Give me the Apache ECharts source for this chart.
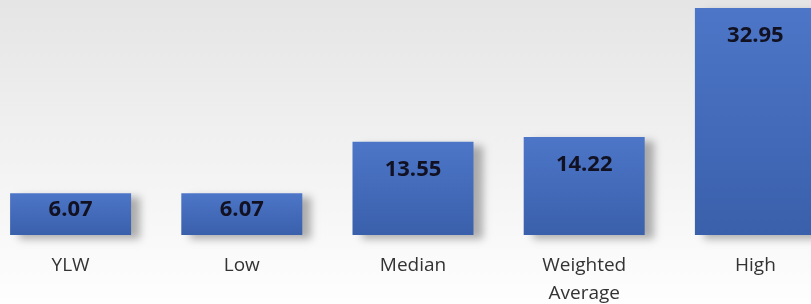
<!DOCTYPE html>
<html>
<head>
<meta charset="utf-8">
<script src="https://cdn.jsdelivr.net/npm/echarts@6/dist/echarts.min.js"></script>
<style>
html, body { margin: 0; padding: 0; }
#main { width: 811px; height: 304px; }
</style>
</head>
<body>
<div id="main"></div>
<script>
var categories = ['YLW', 'Low', 'Median', 'Weighted\nAverage', 'High'];
var values = [6.07, 6.07, 13.55, 14.22, 32.95];

var myChart = echarts.init(document.getElementById('main'));

// small bars get their label nearer the top
var barData = values.map(function (v) {
    return {
        value: v,
        label: { distance: v < 10 ? 6 : 17 }
    };
});

var option = {
    backgroundColor: new echarts.graphic.LinearGradient(0, 0, 0, 1, [
        { offset: 0, color: '#e5e5e5' },
        { offset: 1, color: '#fefefe' }
    ]),
    animation: false,
    grid: {
        left: -15,
        right: -30,
        top: 8,
        bottom: 69,
        outerBoundsMode: 'none'
    },
    xAxis: {
        type: 'category',
        data: categories,
        axisLine: { show: false },
        axisTick: { show: false },
        axisLabel: {
            interval: 0,
            margin: 17,
            color: '#333333',
            fontFamily: 'Open Sans',
            fontSize: 19,
            lineHeight: 28
        }
    },
    yAxis: {
        type: 'value',
        min: 0,
        max: 32.95,
        show: false,
        splitLine: { show: false }
    },
    series: [
        {
            type: 'bar',
            data: barData,
            barWidth: 121,
            itemStyle: {
                color: new echarts.graphic.LinearGradient(0, 0, 0, 1, [
                    { offset: 0, color: '#4d76c8' },
                    { offset: 1, color: '#3a60ab' }
                ]),
                shadowColor: 'rgba(0,0,0,0.3)',
                shadowBlur: 8,
                shadowOffsetX: 9,
                shadowOffsetY: 4
            },
            label: {
                show: true,
                position: 'insideTop',
                color: '#111122',
                fontFamily: 'Open Sans',
                fontWeight: 'bold',
                fontSize: 22,
                formatter: function (p) {
                    return p.value.toFixed(2);
                }
            }
        }
    ]
};

myChart.setOption(option);
</script>
</body>
</html>
